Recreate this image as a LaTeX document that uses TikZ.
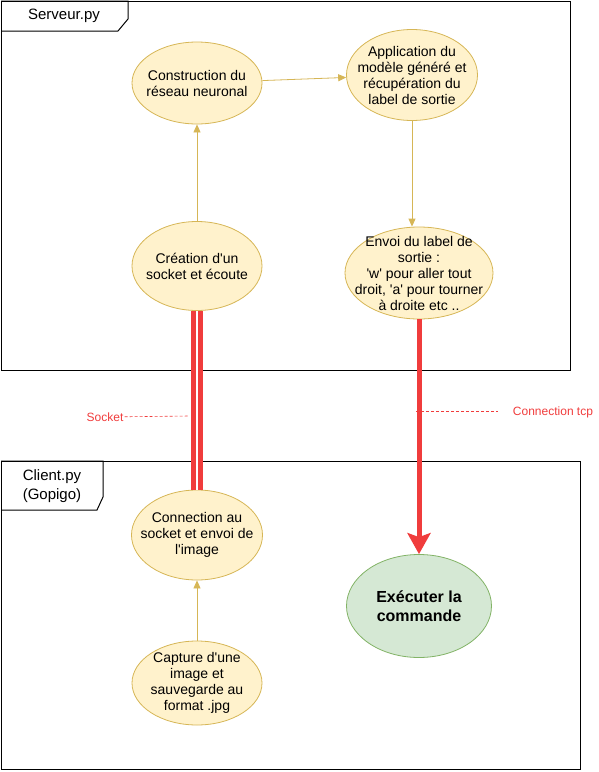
\documentclass[tikz,border=0pt]{standalone}
\usepackage{fontspec}
\setmainfont{Liberation Sans}
\usetikzlibrary{positioning, shapes.geometric, arrows.meta}
\definecolor{ylwfill}{HTML}{FFF2CC}
\definecolor{ylwline}{HTML}{D6B656}
\definecolor{grnfill}{HTML}{D5E8D4}
\definecolor{grnline}{HTML}{82B366}
\definecolor{redlink}{HTML}{F03C3C}
\newcommand{\apos}{\textquotesingle}
\tikzset{
  cadre/.style={draw, line width=1pt},
  titre/.style={align=center, inner sep=0pt, font=\fontsize{15}{19}\selectfont},
  etape/.style={ellipse, draw=ylwline, fill=ylwfill, line width=0.8pt, inner sep=0pt},
  finale/.style={ellipse, draw=grnline, fill=grnfill, line width=0.8pt, inner sep=0pt},
  texte/.style={align=center, inner sep=0pt, font=\fontsize{14}{16}\selectfont},
  fleche/.style={draw=ylwline, line width=0.8pt, -{Triangle[length=8pt,width=7pt]}},
  sockline/.style={draw=redlink, double=white, line width=5pt, double distance=2.5pt},
  tcpline/.style={draw=redlink, line width=5pt, -{Stealth[length=21pt,width=23pt,inset=4pt]}},
  note/.style={text=redlink, inner sep=1pt, font=\fontsize{12}{14}\selectfont},
  renvoi/.style={draw=redlink, line width=0.6pt, dash pattern=on 3pt off 2pt}
}
\begin{document}
\begin{tikzpicture}[x=1pt, y=-1pt]
\useasboundingbox (0,0) rectangle (598,772);
% cadre du serveur
\draw[cadre] (1,1) rectangle (570,370);
\draw[cadre] (1,1) -- (128,1) -- (128,19) -- (118,31) -- (1,31);
\node[titre] (serveur) at (64,16) {Serveur.py};
% cadre du client
\draw[cadre] (1,461) rectangle (580,769);
\draw[cadre] (1,461) -- (103,461) -- (103,497) -- (97,510) -- (1,510);
\node[titre] (client) at (52,486) {Client.py\\(Gopigo)};

% etapes cote serveur
\node[etape, minimum width=130pt, minimum height=82pt] (constr) at (197,83) {};
\node[texte] (constr-t) at (constr) {Construction du\\réseau neuronal};
\node[etape, minimum width=131pt, minimum height=91pt] (appl) at (412,75) {};
\node[texte] (appl-t) at (appl) {Application du\\modèle généré et\\récupération du\\label de sortie};
\node[etape, minimum width=130pt, minimum height=89pt] (creat) at (197,266) {};
\node[texte] (creat-t) at (creat) {Création d\apos un\\socket et écoute};
\node[etape, minimum width=148pt, minimum height=92pt] (envoi) at (419,273) {};
\node[texte] (envoi-t) at (envoi) {Envoi du label de\\sortie :\\\apos w\apos{} pour aller tout\\droit, \apos a\apos{} pour tourner\\à droite etc ..};

% etapes cote client
\node[etape, minimum width=131pt, minimum height=90pt] (conn) at (197,535) {};
\node[texte] (conn-t) at (conn) {Connection au\\socket et envoi de\\l\apos image};
\node[etape, minimum width=130pt, minimum height=84pt] (capt) at (197,683) {};
\node[texte] (capt-t) at (capt) {Capture d\apos une\\image et\\sauvegarde au\\format .jpg};
\node[finale, minimum width=145pt, minimum height=103pt] (exec) at (419,606) {};
\node[texte, font=\fontsize{16}{19}\selectfont\bfseries] (exec-t) at (exec) {Exécuter la\\commande};

% fleches
\draw[fleche] (constr) -- (appl);
\draw[fleche] (creat) -- (constr);
\draw[fleche] (appl.south) -- (appl.south |- envoi.north);
\draw[fleche] (capt) -- (conn);

% liaisons rouges
\draw[sockline] (creat) -- (conn);
\draw[tcpline] (envoi) -- (exec);

% legendes
\node[note] (sock-l) at (105,417) {Socket};
\coordinate (sock-e) at (189,416);
\draw[renvoi] (sock-l) -- (sock-e);
\node[note] (tcp-l) at (553,412) {Connection tcp};
\coordinate (tcp-a) at (416,411);
\coordinate (tcp-b) at (498,411);
\draw[renvoi] (tcp-a) -- (tcp-b);
\end{tikzpicture}
\end{document}
